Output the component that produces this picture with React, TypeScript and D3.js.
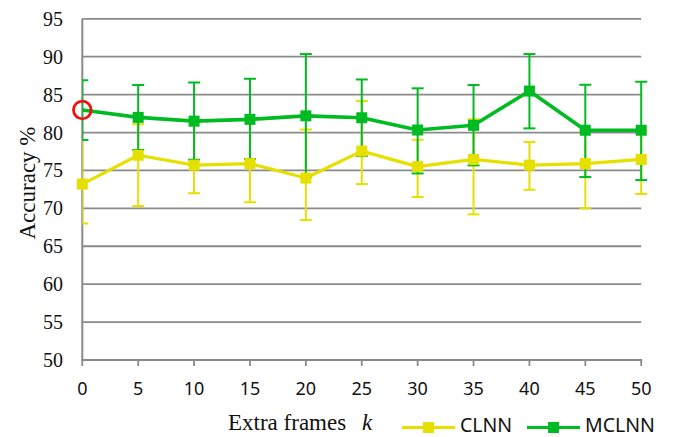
import React from "react";
import * as d3 from "d3";

const ks = [0, 5, 10, 15, 20, 25, 30, 35, 40, 45, 50];
const clnnMean = [73.2, 77.0, 75.7, 75.9, 74.0, 77.55, 75.5, 76.45, 75.7, 75.9, 76.45];
const clnnLow = [68.0, 70.3, 72.0, 70.8, 68.45, 73.2, 71.5, 69.2, 72.45, 70.0, 71.9];
const clnnHigh = [79.0, 81.1, 81.5, 81.7, 80.4, 84.15, 79.05, 81.75, 78.75, 80.3, 80.3];
const mclnnMean = [82.97, 82.0, 81.5, 81.74, 82.2, 81.95, 80.33, 80.95, 85.47, 80.3, 80.3];
const mclnnLow = [79.0, 77.7, 76.4, 76.5, 74.1, 76.9, 74.6, 75.67, 80.55, 74.13, 73.73];
const mclnnHigh = [86.9, 86.27, 86.6, 87.1, 90.35, 87.0, 85.83, 86.27, 90.35, 86.3, 86.7];
const yTicks = [50, 55, 60, 65, 70, 75, 80, 85, 90, 95];
const seriesNames = ["CLNN", "MCLNN"];
const highlightIndex = 0;

const W = 674;
const H = 437;
const YELLOW = "#E6E000";
const GREEN = "#00BB22";
const GRID = "#8a8a8a";

export default function App() {
  const x = d3.scaleLinear().domain([0, 50]).range([82.3, 641.2]);
  const y = d3.scaleLinear().domain([50, 95]).range([360, 18.8]);
  const line = d3
    .line<number>()
    .x((_, i) => x(ks[i]))
    .y((d) => y(d));

  const series = [
    { name: seriesNames[0], mean: clnnMean, low: clnnLow, high: clnnHigh, color: YELLOW, lw: 3.2, skip: -1 },
    { name: seriesNames[1], mean: mclnnMean, low: mclnnLow, high: mclnnHigh, color: GREEN, lw: 3.6, skip: highlightIndex },
  ];
  const cap = 6;
  const ms = 11;

  return (
    <svg
      width={W}
      height={H}
      style={{ position: "absolute", left: 0, top: 0, background: "#fff" }}
    >
      <defs>
        <clipPath id="plotclip">
          <rect x={x(0)} y={0} width={W - x(0)} height={H} />
        </clipPath>
      </defs>
      {/* grid */}
      {yTicks.slice(1).map((t) => (
        <line key={t} x1={x(0)} x2={x(50)} y1={y(t)} y2={y(t)} stroke={GRID} strokeWidth={1.8} />
      ))}
      {/* axes */}
      <line x1={x(0)} x2={x(0)} y1={y(95)} y2={y(50) + 1} stroke={GRID} strokeWidth={2} />
      <line x1={x(0) - 1} x2={x(50) + 1} y1={y(50)} y2={y(50)} stroke={GRID} strokeWidth={2.2} />
      {ks.map((k) => (
        <line key={k} x1={x(k)} x2={x(k)} y1={y(50)} y2={y(50) + 6} stroke={GRID} strokeWidth={1.8} />
      ))}
      {/* y tick labels */}
      {yTicks.map((t) => (
        <text
          key={t}
          x={63}
          y={y(t) + 7}
          textAnchor="end"
          fontFamily="'Liberation Serif', 'Times New Roman', serif"
          fontSize={20}
          fill="#111"
        >
          {t}
        </text>
      ))}
      {/* x tick labels */}
      {ks.map((k) => (
        <text
          key={k}
          x={x(k)}
          y={395}
          textAnchor="middle"
          fontFamily="'Noto Sans', sans-serif"
          fontSize={18}
          fill="#111"
        >
          {k}
        </text>
      ))}
      {/* error bars */}
      <g clipPath="url(#plotclip)">
        {series.map((s) => (
          <g key={s.name}>
            {ks.map((k, i) => (
              <g key={k} stroke={s.color} strokeWidth={2}>
                <line x1={x(k)} x2={x(k)} y1={y(s.low[i])} y2={y(s.high[i])} />
                <line x1={x(k) - cap} x2={x(k) + cap} y1={y(s.low[i])} y2={y(s.low[i])} />
                <line x1={x(k) - cap} x2={x(k) + cap} y1={y(s.high[i])} y2={y(s.high[i])} />
              </g>
            ))}
          </g>
        ))}
      </g>
      {/* lines and markers */}
      {series.map((s) => (
        <g key={s.name}>
          <path d={line(s.mean) || ""} fill="none" stroke={s.color} strokeWidth={s.lw} strokeLinejoin="round" />
          {ks.map((k, i) =>
            i === s.skip ? null : (
              <rect key={k} x={x(k) - ms / 2} y={y(s.mean[i]) - ms / 2} width={ms} height={ms} fill={s.color} />
            )
          )}
        </g>
      ))}
      {/* highlight circle */}
      <circle
        cx={x(ks[highlightIndex])}
        cy={y(mclnnMean[highlightIndex])}
        r={8.8}
        fill="none"
        stroke="#EE1111"
        strokeWidth={2.8}
      />
      {/* axis titles */}
      <text
        transform={`translate(35,183) rotate(-90)`}
        textAnchor="middle"
        fontFamily="'Liberation Serif', 'Times New Roman', serif"
        fontSize={23}
        fill="#111"
      >
        Accuracy %
      </text>
      <text
        x={228}
        y={430}
        fontFamily="'Liberation Serif', 'Times New Roman', serif"
        fontSize={23}
        fill="#111"
      >
        Extra frames
      </text>
      <text
        x={362}
        y={430}
        fontFamily="'Liberation Serif', 'Times New Roman', serif"
        fontStyle="italic"
        fontSize={23}
        fill="#111"
      >
        k
      </text>
      {/* legend */}
      {series.map((s, i) => {
        const x0 = i === 0 ? 402 : 527;
        return (
          <g key={s.name}>
            <line x1={x0} x2={x0 + 53} y1={427.5} y2={427.5} stroke={s.color} strokeWidth={3.2} />
            <rect x={x0 + 26.5 - ms / 2} y={427.5 - ms / 2} width={ms} height={ms} fill={s.color} />
            <text
              x={x0 + 58}
              y={432}
              fontFamily="'Noto Sans', sans-serif"
              fontSize={19.5}
              fill="#111"
            >
              {s.name}
            </text>
          </g>
        );
      })}
    </svg>
  );
}
